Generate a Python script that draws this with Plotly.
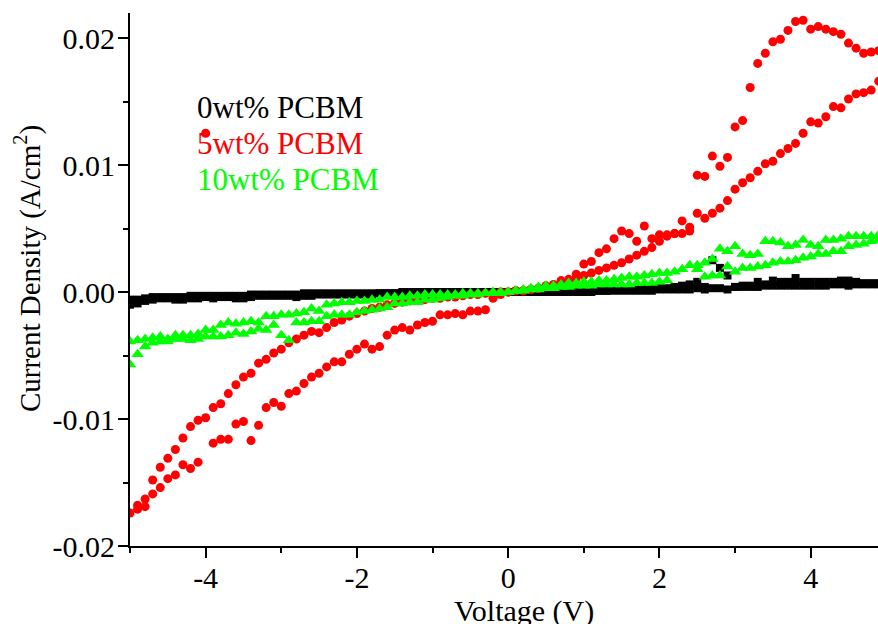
import plotly.graph_objects as go

voltage = [
    -5.0, -4.9, -4.8, -4.7, -4.6, -4.5, -4.4, -4.3, -4.2, -4.1,
    -4.0, -3.9, -3.8, -3.7, -3.6, -3.5, -3.4, -3.3, -3.2, -3.1,
    -3.0, -2.9, -2.8, -2.7, -2.6, -2.5, -2.4, -2.3, -2.2, -2.1,
    -2.0, -1.9, -1.8, -1.7, -1.6, -1.5, -1.4, -1.3, -1.2, -1.1,
    -1.0, -0.9, -0.8, -0.7, -0.6, -0.5, -0.4, -0.3, -0.2, -0.1,
    0.0, 0.1, 0.2, 0.3, 0.4, 0.5, 0.6, 0.7, 0.8, 0.9,
    1.0, 1.1, 1.2, 1.3, 1.4, 1.5, 1.6, 1.7, 1.8, 1.9,
    2.0, 2.1, 2.2, 2.3, 2.4, 2.5, 2.6, 2.7, 2.8, 2.9,
    3.0, 3.1, 3.2, 3.3, 3.4, 3.5, 3.6, 3.7, 3.8, 3.9,
    4.0, 4.1, 4.2, 4.3, 4.4, 4.5, 4.6, 4.7, 4.8, 4.9,
]

# 0wt% PCBM (two sweeps)
black_a = [
    -0.0006, -0.0006, -0.0005, -0.0004, -0.0004, -0.0004, -0.0004, -0.0004, -0.0003, -0.0003,
    -0.0003, -0.0003, -0.0003, -0.0003, -0.0003, -0.0003, -0.0002, -0.0002, -0.0002, -0.0002,
    -0.0002, -0.0002, -0.0002, -0.0001, -0.0001, -0.0001, -0.0001, -0.0001, -0.0001, -0.0001,
    -0.0001, -0.0001, -0.0001, -0.0001, -0.0001, -0.0001, 0.0000, 0.0000, 0.0000, 0.0000,
    0.0000, 0.0000, 0.0000, 0.0000, 0.0000, 0.0000, 0.0000, 0.0000, 0.0000, 0.0000,
    0.0000, 0.0000, 0.0000, 0.0000, 0.0000, 0.0000, 0.0001, 0.0001, 0.0001, 0.0001,
    0.0001, 0.0001, 0.0001, 0.0001, 0.0002, 0.0002, 0.0002, 0.0002, 0.0003, 0.0003,
    0.0003, 0.0003, 0.0004, 0.0005, 0.0006, 0.0008, 0.0004, 0.0025, 0.0019, 0.0013,
    0.0004, 0.0005, 0.0005, 0.0008, 0.0006, 0.0009, 0.0008, 0.0008, 0.0011, 0.0008,
    0.0008, 0.0008, 0.0008, 0.0008, 0.0009, 0.0009, 0.0008, 0.0007, 0.0007, 0.0007,
]
black_b = [
    -0.0010, -0.0009, -0.0007, -0.0006, -0.0005, -0.0005, -0.0006, -0.0006, -0.0005, -0.0005,
    -0.0004, -0.0005, -0.0004, -0.0004, -0.0005, -0.0005, -0.0004, -0.0003, -0.0003, -0.0003,
    -0.0003, -0.0003, -0.0004, -0.0003, -0.0003, -0.0002, -0.0002, -0.0002, -0.0002, -0.0002,
    -0.0002, -0.0002, -0.0002, -0.0001, -0.0001, -0.0001, -0.0001, -0.0001, -0.0001, -0.0001,
    -0.0001, -0.0001, -0.0001, -0.0001, 0.0000, 0.0000, 0.0000, 0.0000, 0.0000, 0.0000,
    0.0000, 0.0000, 0.0000, 0.0000, 0.0000, 0.0000, 0.0000, 0.0000, 0.0000, 0.0000,
    0.0000, 0.0000, 0.0001, 0.0001, 0.0001, 0.0001, 0.0001, 0.0001, 0.0001, 0.0001,
    0.0002, 0.0002, 0.0002, 0.0002, 0.0002, 0.0003, 0.0002, 0.0003, 0.0003, 0.0002,
    0.0004, 0.0004, 0.0004, 0.0004, 0.0005, 0.0005, 0.0005, 0.0005, 0.0005, 0.0005,
    0.0005, 0.0005, 0.0005, 0.0006, 0.0006, 0.0005, 0.0006, 0.0006, 0.0006, 0.0006,
]

# 5wt% PCBM (two sweeps)
red_a = [
    -0.0174, -0.0171, -0.0169, -0.0159, -0.0154, -0.0147, -0.0144, -0.0136, -0.0139, -0.0134,
    0.0125, -0.0119, -0.0116, -0.0116, -0.0104, -0.0102, -0.0117, -0.0105, -0.0091, -0.0087,
    -0.0090, -0.0080, -0.0078, -0.0072, -0.0067, -0.0064, -0.0059, -0.0055, -0.0055, -0.0049,
    -0.0045, -0.0041, -0.0045, -0.0043, -0.0034, -0.0030, -0.0028, -0.0030, -0.0026, -0.0024,
    -0.0023, -0.0018, -0.0018, -0.0017, -0.0018, -0.0015, -0.0015, -0.0014, -0.0005, -0.0002,
    0.0000, 0.0001, 0.0001, 0.0002, 0.0003, 0.0005, 0.0006, 0.0009, 0.0010, 0.0014,
    0.0022, 0.0024, 0.0031, 0.0034, 0.0042, 0.0048, 0.0046, 0.0040, 0.0052, 0.0042,
    0.0045, 0.0045, 0.0046, 0.0056, 0.0051, 0.0092, 0.0091, 0.0107, 0.0099, 0.0106,
    0.0130, 0.0135, 0.0161, 0.0180, 0.0188, 0.0197, 0.0199, 0.0206, 0.0213, 0.0214,
    0.0207, 0.0209, 0.0207, 0.0205, 0.0203, 0.0196, 0.0192, 0.0188, 0.0189, 0.0190,
]
red_b = [
    None, -0.0168, -0.0163, -0.0148, -0.0138, -0.0131, -0.0124, -0.0115, -0.0106, -0.0101,
    -0.0099, -0.0091, -0.0088, -0.0080, -0.0073, -0.0067, -0.0064, -0.0056, -0.0053, -0.0048,
    -0.0045, -0.0040, -0.0037, -0.0034, -0.0031, -0.0032, -0.0028, -0.0024, -0.0022, -0.0019,
    -0.0017, -0.0015, -0.0013, -0.0012, -0.0010, -0.0009, -0.0008, -0.0007, -0.0006, -0.0006,
    -0.0005, -0.0005, -0.0004, -0.0004, -0.0003, -0.0002, -0.0002, -0.0001, -0.0001, 0.0000,
    0.0000, 0.0001, 0.0001, 0.0002, 0.0003, 0.0004, 0.0005, 0.0007, 0.0009, 0.0011,
    0.0013, 0.0015, 0.0017, 0.0019, 0.0021, 0.0023, 0.0026, 0.0029, 0.0032, 0.0035,
    0.0040, 0.0044, 0.0046, 0.0046, 0.0048, 0.0062, 0.0058, 0.0062, 0.0066, 0.0072,
    0.0081, 0.0086, 0.0090, 0.0095, 0.0101, 0.0103, 0.0109, 0.0113, 0.0117, 0.0125,
    0.0134, 0.0133, 0.0138, 0.0146, 0.0145, 0.0152, 0.0156, 0.0157, 0.0159, 0.0166,
]

# 10wt% PCBM (two sweeps)
green_a = [
    -0.0057, -0.0049, -0.0043, -0.0040, -0.0039, -0.0039, -0.0037, -0.0037, -0.0038, -0.0037,
    -0.0035, -0.0035, -0.0035, -0.0034, -0.0032, -0.0033, -0.0031, -0.0029, -0.0030, -0.0026,
    -0.0034, -0.0038, -0.0024, -0.0024, -0.0023, -0.0023, -0.0019, -0.0018, -0.0018, -0.0018,
    -0.0016, -0.0015, -0.0014, -0.0013, -0.0012, -0.0009, -0.0009, -0.0008, -0.0008, -0.0006,
    -0.0006, -0.0005, -0.0004, -0.0003, -0.0003, -0.0002, -0.0002, -0.0001, -0.0001, -0.0001,
    0.0000, 0.0001, 0.0002, 0.0003, 0.0004, 0.0005, 0.0005, 0.0006, 0.0007, 0.0007,
    0.0008, 0.0008, 0.0009, 0.0009, 0.0010, 0.0011, 0.0012, 0.0012, 0.0013, 0.0014,
    0.0015, 0.0015, 0.0016, 0.0018, 0.0021, 0.0021, 0.0023, 0.0026, 0.0034, 0.0032,
    0.0036, 0.0030, 0.0029, 0.0030, 0.0040, 0.0040, 0.0039, 0.0036, 0.0037, 0.0041,
    0.0037, 0.0036, 0.0041, 0.0041, 0.0042, 0.0044, 0.0044, 0.0044, 0.0044, 0.0045,
]
green_b = [
    -0.0039, -0.0038, -0.0037, -0.0036, -0.0035, -0.0037, -0.0034, -0.0034, -0.0034, -0.0033,
    -0.0030, -0.0030, -0.0026, -0.0024, -0.0025, -0.0024, -0.0023, -0.0024, -0.0019, -0.0019,
    -0.0018, -0.0018, -0.0017, -0.0016, -0.0013, -0.0015, -0.0010, -0.0009, -0.0008, -0.0008,
    -0.0007, -0.0007, -0.0006, -0.0006, -0.0004, -0.0004, -0.0004, -0.0003, -0.0003, -0.0002,
    -0.0002, -0.0002, -0.0002, -0.0002, -0.0001, -0.0001, -0.0001, -0.0001, 0.0000, 0.0000,
    0.0000, 0.0001, 0.0001, 0.0002, 0.0002, 0.0003, 0.0003, 0.0004, 0.0004, 0.0005,
    0.0005, 0.0005, 0.0006, 0.0006, 0.0006, 0.0006, 0.0006, 0.0007, 0.0007, 0.0007,
    0.0008, 0.0009, None, None, None, 0.0018, 0.0012, 0.0013, 0.0013, 0.0020,
    0.0016, 0.0019, 0.0019, 0.0020, 0.0021, 0.0023, 0.0024, 0.0024, 0.0025, 0.0027,
    0.0028, 0.0030, 0.0030, 0.0032, 0.0032, 0.0036, 0.0037, 0.0038, 0.0040, 0.0041,
]

series_names = ["0wt% PCBM", "5wt% PCBM", "10wt% PCBM"]
series_colors = ["#000000", "#ff0000", "#00ff00"]

x_tickvals = [-4, -2, 0, 2, 4]
x_ticktext = ["-4", "-2", "0", "2", "4"]
x_minor = [-5, -3, -1, 1, 3]
y_tickvals = [-0.02, -0.01, 0.0, 0.01, 0.02]
y_ticktext = ["-0.02", "-0.01", "0.00", "0.01", "0.02"]
y_minor = [-0.015, -0.005, 0.005, 0.015]

FONT = "Liberation Serif, Times New Roman, serif"

fig = go.Figure()
for ys in (black_a, black_b):
    fig.add_trace(go.Scatter(x=voltage, y=ys, mode="markers",
                             marker=dict(symbol="square", size=8, color=series_colors[0]),
                             showlegend=False))
for ys in (red_a, red_b):
    fig.add_trace(go.Scatter(x=voltage, y=ys, mode="markers",
                             marker=dict(symbol="circle", size=9, color=series_colors[1]),
                             showlegend=False))
for ys in (green_a, green_b):
    fig.add_trace(go.Scatter(x=voltage, y=ys, mode="markers",
                             marker=dict(symbol="triangle-up", size=11, color=series_colors[2]),
                             showlegend=False))

axis_common = dict(
    showgrid=False, zeroline=False, showline=True, linecolor="black", linewidth=2,
    ticks="outside", ticklen=10, tickwidth=2, tickcolor="black",
    tickfont=dict(family=FONT, size=30, color="black"),
)

fig.update_xaxes(range=[-5, 4.89], tickmode="array", tickvals=x_tickvals, ticktext=x_ticktext,
                 ticklabelstandoff=-6,
                 minor=dict(tickmode="array", tickvals=x_minor, ticks="outside", ticklen=5,
                            tickwidth=2, tickcolor="black"),
                 **axis_common)
fig.update_yaxes(range=[-0.02, 0.02197], tickmode="array", tickvals=y_tickvals, ticktext=y_ticktext,
                 ticklabelstandoff=-3,
                 minor=dict(tickmode="array", tickvals=y_minor, ticks="outside", ticklen=5,
                            tickwidth=2, tickcolor="black"),
                 **axis_common)

# legend as coloured text
legend_y = [0.822, 0.756, 0.687]
for name, col, yy in zip(series_names, series_colors, legend_y):
    fig.add_annotation(x=0.087, y=yy, xref="paper", yref="paper", text=name, showarrow=False,
                       xanchor="left", yanchor="middle",
                       font=dict(family=FONT, size=31, color=col))

fig.add_annotation(x=0.527, y=-0.122, xref="paper", yref="paper", text="Voltage (V)",
                   showarrow=False, xanchor="center", yanchor="middle",
                   font=dict(family=FONT, size=30, color="black"))
fig.add_annotation(x=-0.136, y=0.52, xref="paper", yref="paper",
                   text="Current Density (A/cm<sup>2</sup>)", textangle=-90,
                   showarrow=False, xanchor="center", yanchor="middle",
                   font=dict(family=FONT, size=29, color="black"))

fig.update_layout(
    width=878, height=624,
    margin=dict(l=130, r=0, t=13, b=78),
    paper_bgcolor="white", plot_bgcolor="white",
    showlegend=False,
)

fig.write_html("out.html",
               config={"displayModeBar": False},
               post_script="document.body.style.margin='0';document.body.style.overflow='hidden';")
